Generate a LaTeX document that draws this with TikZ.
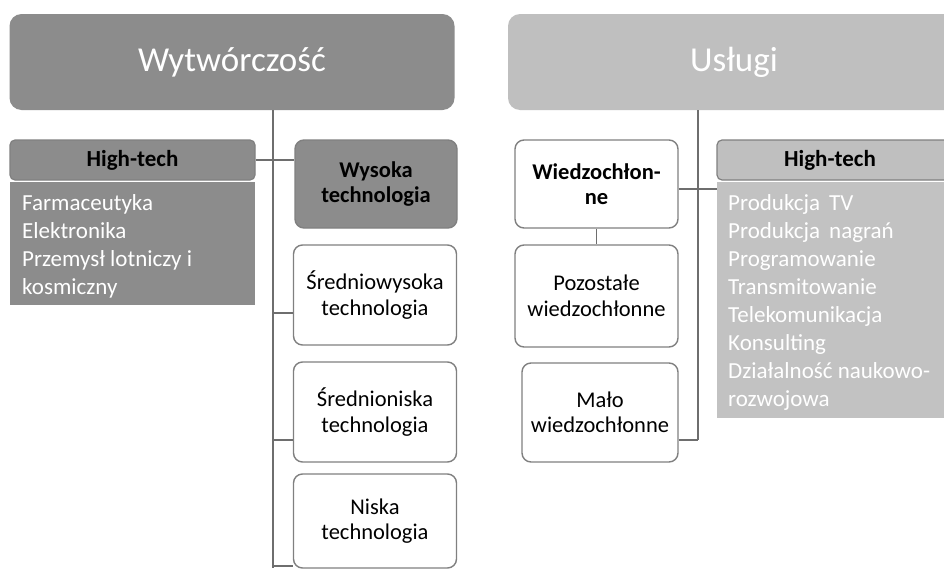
\documentclass[tikz,border=0pt]{standalone}
\usepackage{fontspec}
\setmainfont{Carlito}
\definecolor{darkfill}{HTML}{8C8C8C}
\definecolor{lightfill}{HTML}{BFBFBF}
\definecolor{edgegray}{HTML}{808080}
\definecolor{linegray}{HTML}{6E6E6E}
\begin{document}
\begin{tikzpicture}[x=1pt,y=-1pt,
  title/.style={rounded corners=12pt, inner sep=0pt, text=white,
    font=\fontsize{35}{40}\selectfont},
  head/.style={draw=edgegray, line width=1.2pt, rounded corners=5pt, inner sep=0pt,
    font=\bfseries\fontsize{23}{26}\selectfont},
  listbody/.style={inner sep=0pt, anchor=north west, text=white, align=left,
    font=\fontsize{23}{28}\selectfont},
  catbox/.style={draw=edgegray, line width=1.4pt, rounded corners=9pt, inner sep=0pt,
    fill=white, align=center, font=\fontsize{22.5}{25.5}\selectfont},
  link/.style={draw=linegray, line width=1.8pt}
]
\clip (0,0) rectangle (944,570);
\fill[white] (0,0) rectangle (944,570);

% top-level categories
\node[title, fill=darkfill, minimum width=445pt, minimum height=96pt] (wyt) at (232,62) {Wytwórczość};
\node[title, fill=lightfill, minimum width=452pt, minimum height=96pt] (usl) at (734,62) {Usługi};

% manufacturing: high-tech list
\node[head, fill=darkfill, minimum width=245pt, minimum height=40pt] (lht) at (132.5,160) {High-tech};
\fill[darkfill] (10,182) rectangle (255,305);
\node[listbody] (llist) at (22,194) {Farmaceutyka\\Elektronika\\Przemysł lotniczy i\\kosmiczny};

% manufacturing: technology levels
\node[catbox, fill=darkfill, font=\bfseries\fontsize{22.5}{25.5}\selectfont,
      minimum width=162pt, minimum height=88pt] (wys) at (376,184) {Wysoka\\technologia};
\node[catbox, minimum width=163pt, minimum height=100pt] (srw) at (375,295) {Średniowysoka\\technologia};
\node[catbox, minimum width=163pt, minimum height=100pt] (srn) at (375,412) {Średnioniska\\technologia};
\node[catbox, minimum width=163pt, minimum height=94pt] (nis) at (375,521) {Niska\\technologia};

% services: knowledge intensity
\node[catbox, font=\bfseries\fontsize{22.5}{25.5}\selectfont,
      minimum width=163pt, minimum height=88pt] (wie) at (596.5,184) {Wiedzochłon-\\ne};
\node[catbox, minimum width=163pt, minimum height=102pt] (poz) at (596.5,296) {Pozostałe\\wiedzochłonne};
\node[catbox, minimum width=156pt, minimum height=99pt] (mal) at (600,412.5) {Mało\\wiedzochłonne};

% services: high-tech list
\node[head, fill=lightfill, minimum width=240pt, minimum height=40pt] (rht) at (837,160) {\hspace*{-14pt}High-tech};
\fill[lightfill!95!white] (717,182) rectangle (950,418);
\node[listbody] (rlist) at (728,194) {Produkcja\, TV\\Produkcja\, nagrań\\Programowanie\\Transmitowanie\\Telekomunikacja\\Konsulting\\Działalność naukowo-\\rozwojowa};

% connectors, manufacturing side
\coordinate (lx) at (273,0);
\coordinate (lend) at (273,568);
\draw[link] (wyt.south -| lx) -- (lend);
\draw[link] (lht.east) -- (wys.west |- lht.east);
\draw[link] (lx |- 0,313) -- (srw.west |- 0,313);
\draw[link] (lx |- 0,440) -- (srn.west |- 0,440);
\draw[link] (lx |- 0,566) -- (nis.west |- 0,566);

% connectors, services side
\coordinate (rx) at (698,0);
\coordinate (rend) at (698,440);
\draw[link] (usl.south -| rx) -- (rend);
\draw[link] (wie.east |- 0,189) -- (717,189);
\draw[link] (wie.south) -- (poz.north);
\draw[link] (mal.east |- rend) -- (rend);
\end{tikzpicture}
\end{document}
